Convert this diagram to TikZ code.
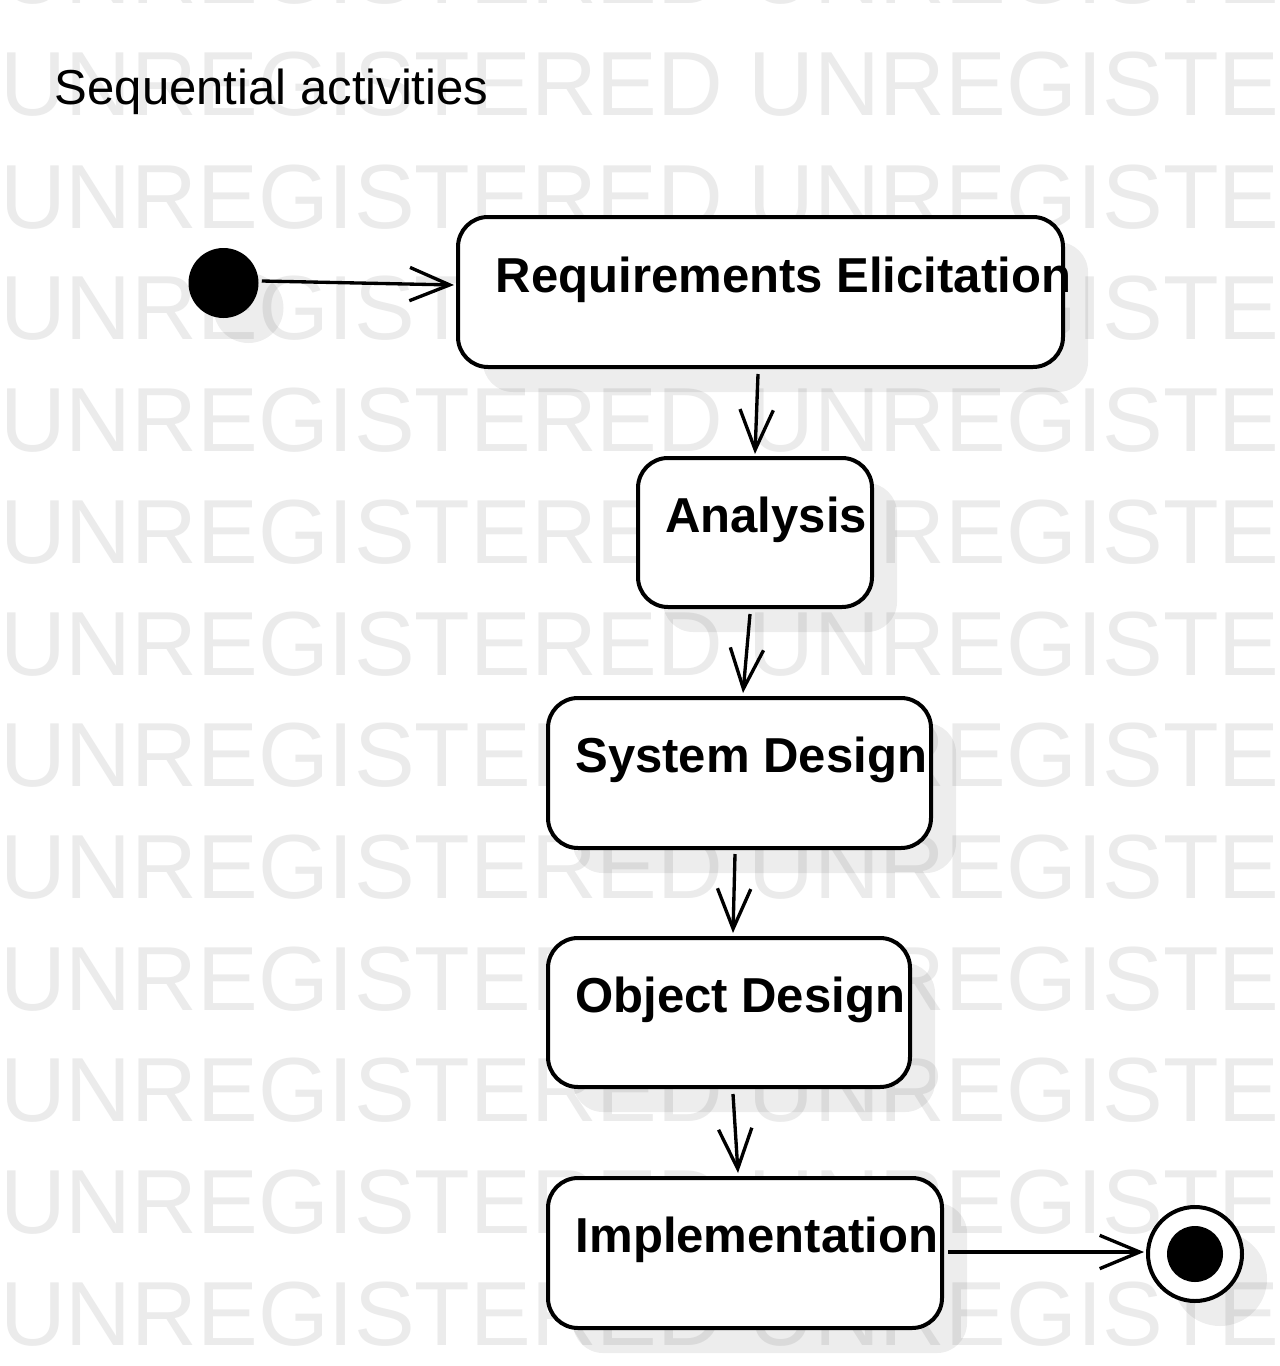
\documentclass[tikz,border=0pt]{standalone}
\usepackage{fontspec}
\setmainfont{Liberation Sans}
\usetikzlibrary{arrows.meta,shadows}
\definecolor{wm}{RGB}{235,235,235}
\tikzset{
  shad/.style={drop shadow={shadow xshift=18.75pt,shadow yshift=-18.75pt,fill=black,opacity=0.07}},
  act/.style={draw, line width=3pt, rounded corners=22.5pt, fill=white, inner sep=0pt, shad},
  lbl/.style={anchor=base west, inner sep=0pt, font=\fontsize{36.8pt}{40pt}\selectfont\bfseries},
  arr/.style={line width=2.5pt, -{Straight Barb[length=30pt,width=25pt]}},
  wmk/.style={anchor=base west, inner sep=0pt, text=wm, font=\fontsize{68.25pt}{70pt}\selectfont},
}
\begin{document}
\begin{tikzpicture}[x=0.75pt,y=-0.75pt]
\useasboundingbox (0,0) rectangle (1280,1366);
\clip (0,0) rectangle (1280,1366);
\fill[white] (0,0) rectangle (1280,1366);
% watermark
\foreach \b in {4,116,228,339,451,563,675,786,898,1010,1121,1233,1345}
  \node[wmk] (wm-\b) at (0,\b) {UNREGISTERED UNREGISTERED};
% title
\node[anchor=base west, inner sep=0pt, font=\fontsize{36.8pt}{40pt}\selectfont] (title) at (54.5,105) {Sequential activities};
% initial node
\node[circle, fill=black, minimum size=52.5pt, inner sep=0pt, shad] (init) at (223.5,283) {};
% activities
\node[act, minimum width=453.75pt, minimum height=112.5pt] (req) at (760.5,292) {};
\node[act, minimum width=175.5pt, minimum height=111.75pt] (ana) at (755,532.5) {};
\node[act, minimum width=287.25pt, minimum height=112.5pt] (sys) at (739.5,773) {};
\node[act, minimum width=271.5pt, minimum height=111.75pt] (obj) at (729,1012.5) {};
\node[act, minimum width=295.5pt, minimum height=112.5pt] (imp) at (745,1253) {};
\node[lbl] (reqt) at (495.5,292) {Requirements Elicitation};
\node[lbl] (anat) at (665,532) {Analysis};
\node[lbl] (syst) at (575,772) {System Design};
\node[lbl] (objt) at (575,1012) {Object Design};
\node[lbl] (impt) at (575.5,1252) {Implementation};
% final node
\node[circle, draw, line width=3pt, fill=white, minimum size=70.5pt, inner sep=0pt, shad] (final) at (1195,1254) {};
\node[circle, fill=black, minimum size=42pt, inner sep=0pt] (finalin) at (final.center) {};
% transitions
\draw[arr] ([shift={(3,-2)}]init.east) -- ([shift={(-2,-7)}]req.west);
\draw[arr] ([shift={(-2.5,5)}]req.south) -- ([shift={(0,-2)}]ana.north);
\draw[arr] ([shift={(-5,5)}]ana.south) -- ([shift={(3.5,-3)}]sys.north);
\draw[arr] ([shift={(-4.5,4)}]sys.south) -- ([shift={(4,-3)}]obj.north);
\draw[arr] ([shift={(4,5)}]obj.south) -- ([shift={(-7,-3)}]imp.north);
\draw[arr] ([shift={(4,-1)}]imp.east) -- ([shift={(-2,-2)}]final.west);
\end{tikzpicture}
\end{document}
